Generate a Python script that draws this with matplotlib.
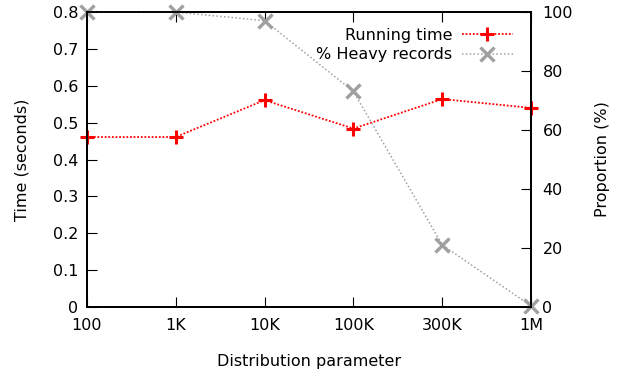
import matplotlib
matplotlib.use("Agg")
import matplotlib.pyplot as plt

# data
params = ["100", "1K", "10K", "100K", "300K", "1M"]
running_time = [0.461, 0.461, 0.561, 0.484, 0.564, 0.540]
heavy_pct = [100, 100, 97.1, 73.1, 21.0, 0.3]

plt.rcParams["font.family"] = ["DejaVu Sans"]
plt.rcParams["font.size"] = 11.5

fig = plt.figure(figsize=(6.28, 3.78), dpi=100)
ax = fig.add_axes([0.138, 0.188, 0.708, 0.78])
ax2 = ax.twinx()

x = list(range(len(params)))
l1, = ax.plot(x, running_time, color="red", linestyle=(0, (1, 1)), linewidth=1.3,
              marker="+", markersize=10, markeredgewidth=2.2, label="Running time", clip_on=False, zorder=5)
l2, = ax2.plot(x, heavy_pct, color="#a0a0a0", linestyle=(0, (1, 1.5)), linewidth=1.1,
               marker="x", markersize=9.5, markeredgewidth=2.4, label="% Heavy records", clip_on=False)

ax.set_xlim(0, len(params) - 1)
ax.set_ylim(0, 0.8)
ax2.set_ylim(0, 100)
ax.set_xticks(x)
ax.set_xticklabels(params)
ax.set_yticks([0, 0.1, 0.2, 0.3, 0.4, 0.5, 0.6, 0.7, 0.8])
ax.set_yticklabels(["0", "0.1", "0.2", "0.3", "0.4", "0.5", "0.6", "0.7", "0.8"])
ax2.set_yticks([0, 20, 40, 60, 80, 100])

ax.tick_params(axis="x", direction="in", top=True, length=7, pad=8)
ax.tick_params(axis="y", direction="in", length=7, pad=6)
ax2.tick_params(axis="y", direction="in", length=7, pad=8)
for a in (ax, ax2):
    for s in a.spines.values():
        s.set_linewidth(1.3)

ax.set_xlabel("Distribution parameter", labelpad=15)
ax.set_ylabel("Time (seconds)", labelpad=17)
ax2.set_ylabel("Proportion (%)", labelpad=16)

ax2.legend([l1, l2], ["Running time", "% Heavy records"], loc="upper right",
           bbox_to_anchor=(0.98, 0.98), frameon=False, markerfirst=False,
           handlelength=3.2, handletextpad=0.6, labelspacing=0.3, borderaxespad=0.2)

fig.savefig("out.png", dpi=100)
